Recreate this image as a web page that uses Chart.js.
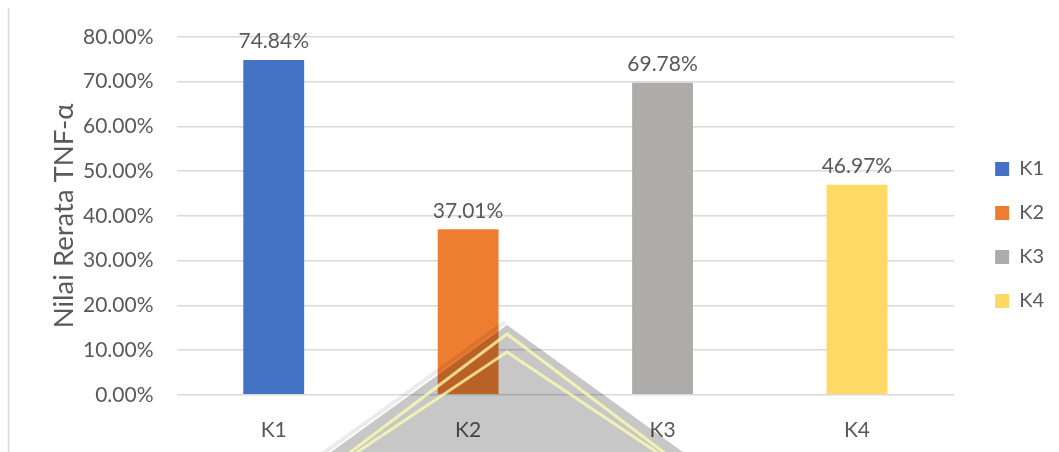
<!DOCTYPE html>
<html>
<head>
<meta charset="utf-8">
<script src="https://cdn.jsdelivr.net/npm/chart.js@4.4.1/dist/chart.umd.min.js"></script>
<style>
    body { margin: 0; background: #fff; }
    #wrap { width: 1059px; height: 452px; position: relative; }
</style>
</head>
<body>
<div id="wrap"><canvas id="tnf_chart"></canvas></div>
<script>
// data
const groups = ['K1', 'K2', 'K3', 'K4'];
const tnf_values = [74.84, 37.01, 69.78, 46.97];
const bar_colors = ['#4472C4', '#ED7D31', '#AEABAB', '#FFD966'];
const y_ticks = [0, 10, 20, 30, 40, 50, 60, 70, 80];

const txt_color = '#595959';
const font_family = "Lato, 'Noto Sans', sans-serif";

// value labels on top of the bars
const valueLabels = {
    id: 'valueLabels',
    afterDatasetsDraw(chart) {
        const ctx = chart.ctx;
        const meta = chart.getDatasetMeta(0);
        ctx.save();
        ctx.font = '21px ' + font_family;
        ctx.fillStyle = txt_color;
        ctx.textAlign = 'center';
        ctx.textBaseline = 'bottom';
        meta.data.forEach((bar, i) => {
            ctx.fillText(tnf_values[i].toFixed(2) + '%', bar.x, bar.y - 8);
        });
        ctx.restore();
    }
};

// push legend a bit away from the plot (excel leaves a wider gap) and up a little
const legendShift = {
    id: 'legendShift',
    afterLayout(chart) {
        chart.legend.left += 17;
        chart.legend.right += 17;
        chart.legend.top -= 5;
        chart.legend.bottom -= 5;
    }
};

// frame line at left + the watermark logo laid over the picture
const decor = {
    id: 'decor',
    beforeDraw(chart) {
        const ctx = chart.ctx;
        ctx.save();
        ctx.strokeStyle = '#d9d9d9';
        ctx.lineWidth = 1.5;
        ctx.beginPath();
        ctx.moveTo(8.5, 8);
        ctx.lineTo(8.5, 452);
        ctx.stroke();
        ctx.restore();
    },
    afterDraw(chart) {
        const ctx = chart.ctx;
        ctx.save();
        // soft shadow edge
        ctx.strokeStyle = 'rgba(0,0,0,0.08)';
        ctx.lineWidth = 4;
        ctx.beginPath();
        ctx.moveTo(314, 460);
        ctx.lineTo(505, 322);
        ctx.stroke();
        // gray triangle
        ctx.fillStyle = 'rgba(0,0,0,0.22)';
        ctx.beginPath();
        ctx.moveTo(507, 325);
        ctx.lineTo(320, 460);
        ctx.lineTo(694, 460);
        ctx.closePath();
        ctx.fill();
        // yellow stripes
        ctx.lineWidth = 3;
        ctx.strokeStyle = 'rgba(255,255,175,0.75)';
        [334, 352].forEach(top => {
            ctx.beginPath();
            ctx.moveTo(340 + (top - 334) * 0.3, 460);
            ctx.lineTo(507, top);
            ctx.lineTo(674 - (top - 334) * 0.3, 460);
            ctx.stroke();
        });
        ctx.restore();
    }
};

const ctx = document.getElementById('tnf_chart').getContext('2d');
const myChart = new Chart(ctx, {
    type: 'bar',
    data: {
        labels: groups,
        datasets: [{
            label: 'Nilai Rerata TNF-α',
            data: tnf_values,
            backgroundColor: bar_colors,
            categoryPercentage: 1,
            barPercentage: 0.313
        }]
    },
    options: {
        responsive: true,
        maintainAspectRatio: false,
        animation: false,
        layout: { padding: { left: 46, right: 22, top: 37, bottom: 9 } },
        plugins: {
            tooltip: { enabled: false },
            legend: {
                position: 'right',
                labels: {
                    color: txt_color,
                    font: { family: font_family, size: 20 },
                    boxWidth: 14,
                    boxHeight: 14,
                    padding: 24,
                    generateLabels(chart) {
                        return groups.map((g, i) => ({
                            text: g,
                            fillStyle: bar_colors[i],
                            strokeStyle: bar_colors[i],
                            lineWidth: 0,
                            fontColor: txt_color,
                            index: i
                        }));
                    }
                }
            }
        },
        scales: {
            x: {
                grid: { display: false, drawTicks: false, tickLength: 0 },
                border: { display: false },
                ticks: { color: txt_color, font: { family: font_family, size: 21 }, padding: 23 },
                // chart.js counts the tick padding twice, take one back
                afterFit(scale) { scale.height -= 23; }
            },
            y: {
                min: 0,
                max: 80,
                afterBuildTicks(axis) {
                    axis.ticks = y_ticks.map(v => ({ value: v }));
                },
                afterFit(scale) { scale.width -= 23; },
                grid: { color: '#d9d9d9', lineWidth: 1.5, drawTicks: false, tickLength: 0 },
                border: { display: false },
                ticks: {
                    color: txt_color,
                    font: { family: font_family, size: 21 },
                    padding: 23,
                    callback: v => v.toFixed(2) + '%'
                },
                title: {
                    display: true,
                    text: 'Nilai Rerata TNF-α',
                    color: txt_color,
                    font: { family: font_family, size: 27.5 },
                    padding: 2
                }
            }
        }
    },
    plugins: [valueLabels, legendShift, decor]
});
</script>
</body>
</html>
